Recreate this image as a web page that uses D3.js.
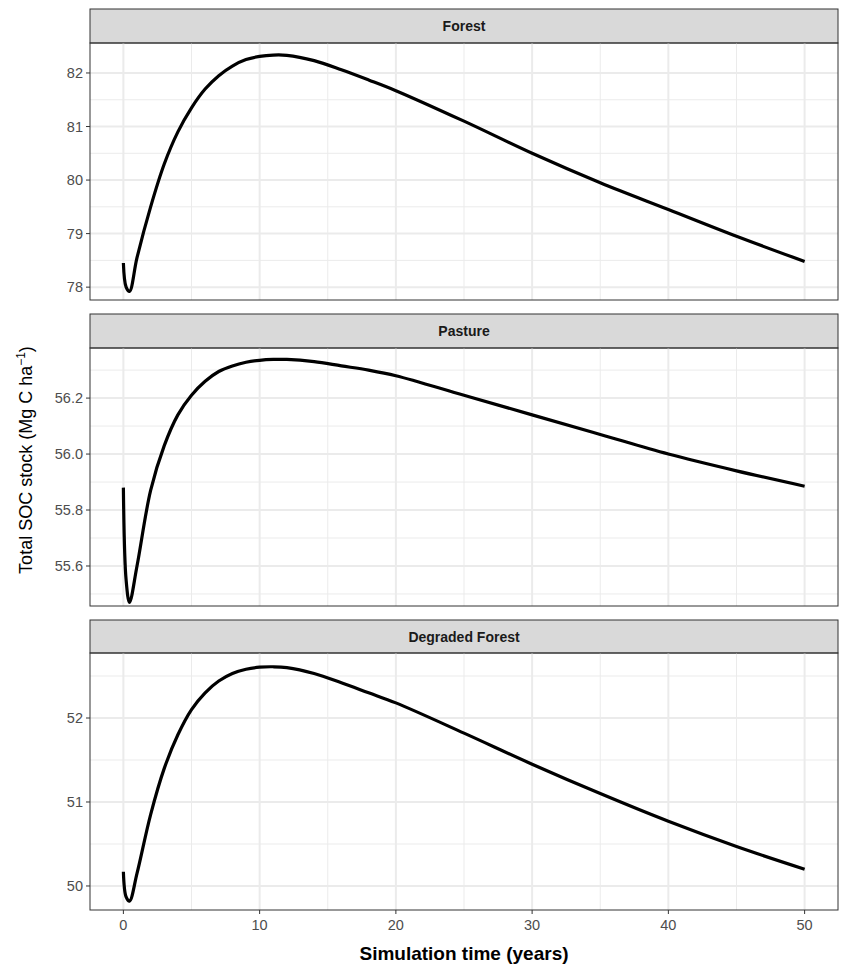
<!DOCTYPE html>
<html><head><meta charset="utf-8">
<script src="https://cdn.jsdelivr.net/npm/d3@7"></script>
<style>body{margin:0;background:#fff;font-family:"Liberation Sans",Arial,sans-serif}</style>
</head><body>
<script>
const panelNames = ["Forest", "Pasture", "Degraded Forest"];
const years = [0, 0.2, 0.45, 1, 2, 3, 4, 5, 6, 7, 8, 9, 10, 11, 12, 14, 16, 18, 20, 25, 30, 35, 40, 45, 50];
const forestSoc = [78.45, 78.0, 77.92, 78.55, 79.5, 80.3, 80.9, 81.35, 81.7, 81.95, 82.13, 82.25, 82.31, 82.335, 82.33, 82.23, 82.06, 81.87, 81.67, 81.1, 80.5, 79.95, 79.45, 78.95, 78.48];
const pastureSoc = [55.88, 55.55, 55.47, 55.6, 55.87, 56.03, 56.14, 56.21, 56.26, 56.295, 56.315, 56.328, 56.335, 56.338, 56.338, 56.33, 56.315, 56.3, 56.28, 56.21, 56.14, 56.07, 56.0, 55.94, 55.885];
const degradedSoc = [50.17, 49.87, 49.82, 50.15, 50.85, 51.4, 51.8, 52.1, 52.3, 52.44, 52.53, 52.58, 52.605, 52.61, 52.6, 52.53, 52.42, 52.3, 52.18, 51.82, 51.45, 51.1, 50.77, 50.47, 50.2];
const xTicks = [0, 10, 20, 30, 40, 50];
const yTicks = [[78, 79, 80, 81, 82], [55.6, 55.8, 56.0, 56.2], [50, 51, 52]];
const yMinor = [[78.5, 79.5, 80.5, 81.5], [55.5, 55.7, 55.9, 56.1, 56.3], [50.5, 51.5, 52.5]];
const yDomains = [[77.76, 82.56], [55.457, 56.379], [49.714, 52.774]];
const series = [forestSoc, pastureSoc, degradedSoc];

const W = 848, H = 973;
const left = 90, right = 838;
const panels = [{s: 9, t: 43, b: 300}, {s: 314, t: 348, b: 606}, {s: 620, t: 653, b: 910}];
const svg = d3.select("body").append("svg").attr("width", W).attr("height", H);
const x = d3.scaleLinear().domain([-2.45, 52.45]).range([left, right]);

panels.forEach((p, i) => {
  const y = d3.scaleLinear().domain(yDomains[i]).range([p.b, p.t]);
  const g = svg.append("g");
  g.append("rect").attr("x", left).attr("y", p.s).attr("width", right - left).attr("height", p.t - p.s)
    .attr("fill", "#d9d9d9").attr("stroke", "#333").attr("stroke-width", 1);
  g.append("text").attr("x", (left + right) / 2).attr("y", (p.s + p.t) / 2 + 5).attr("text-anchor", "middle")
    .attr("font-size", 14).attr("font-weight", "bold").attr("fill", "#1a1a1a").text(panelNames[i]);
  [5, 15, 25, 35, 45].forEach(v => g.append("line").attr("x1", x(v)).attr("x2", x(v)).attr("y1", p.t).attr("y2", p.b).attr("stroke", "#ebebeb").attr("stroke-width", 1));
  yMinor[i].forEach(v => g.append("line").attr("x1", left).attr("x2", right).attr("y1", y(v)).attr("y2", y(v)).attr("stroke", "#ebebeb").attr("stroke-width", 1));
  xTicks.forEach(v => g.append("line").attr("x1", x(v)).attr("x2", x(v)).attr("y1", p.t).attr("y2", p.b).attr("stroke", "#ebebeb").attr("stroke-width", 2));
  yTicks[i].forEach(v => {
    g.append("line").attr("x1", left).attr("x2", right).attr("y1", y(v)).attr("y2", y(v)).attr("stroke", "#ebebeb").attr("stroke-width", 2);
    g.append("line").attr("x1", left - 4).attr("x2", left).attr("y1", y(v)).attr("y2", y(v)).attr("stroke", "#333");
    g.append("text").attr("x", left - 7).attr("y", y(v) + 5).attr("text-anchor", "end").attr("font-size", 14.5).attr("fill", "#4d4d4d")
      .text(i === 1 ? v.toFixed(1) : v);
  });
  const line = d3.line().x((d, j) => x(years[j])).y(d => y(d)).curve(d3.curveCatmullRom.alpha(0.5));
  g.append("path").datum(series[i]).attr("d", line).attr("fill", "none").attr("stroke", "#000").attr("stroke-width", 3.2);
  g.append("rect").attr("x", left).attr("y", p.t).attr("width", right - left).attr("height", p.b - p.t)
    .attr("fill", "none").attr("stroke", "#333").attr("stroke-width", 1);
});

const last = panels[2];
xTicks.forEach(v => {
  svg.append("line").attr("x1", x(v)).attr("x2", x(v)).attr("y1", last.b).attr("y2", last.b + 4).attr("stroke", "#333");
  svg.append("text").attr("x", x(v)).attr("y", last.b + 20).attr("text-anchor", "middle").attr("font-size", 14.5).attr("fill", "#4d4d4d").text(v);
});
svg.append("text").attr("x", (left + right) / 2).attr("y", 960).attr("text-anchor", "middle")
  .attr("font-size", 19).attr("font-weight", "bold").text("Simulation time (years)");
const yl = svg.append("text").attr("transform", "translate(32,460) rotate(-90)").attr("text-anchor", "middle").attr("font-size", 18);
yl.append("tspan").text("Total SOC stock (Mg C ha");
yl.append("tspan").attr("font-size", 12).attr("dy", -7).text("\u22121");
yl.append("tspan").attr("dy", 7).text(")");
</script>
</body></html>
